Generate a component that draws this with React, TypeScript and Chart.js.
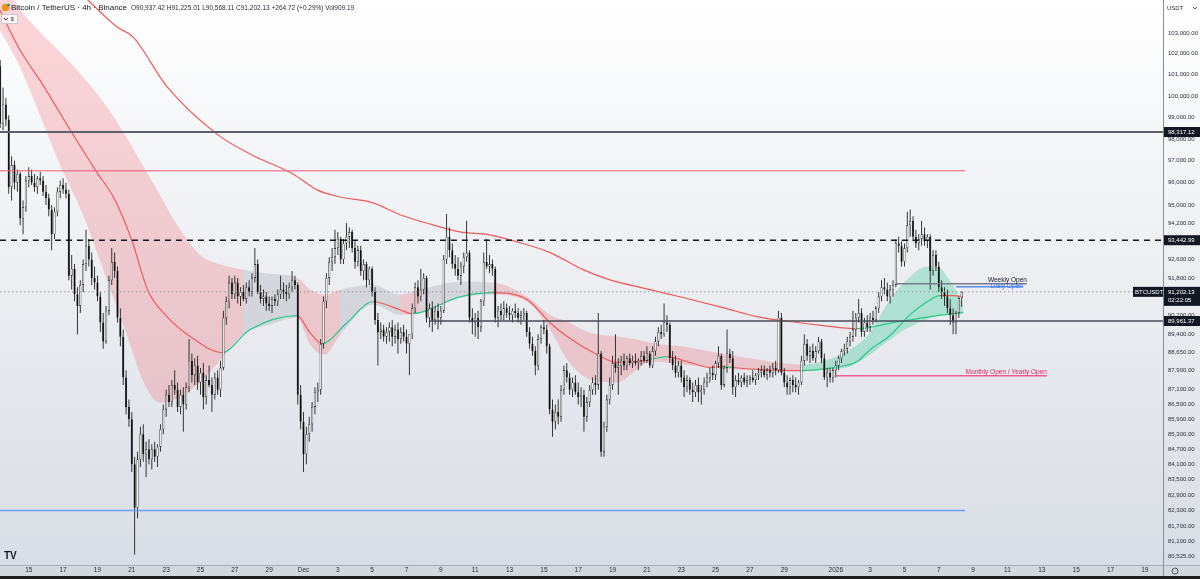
import React, { useEffect, useRef } from "react";
import { Chart, registerables } from "chart.js";

Chart.register(...registerables);

const FONT = "'Liberation Sans', Arial, sans-serif";

// Time axis: days since 1 Dec 2025 00:00. First candle = 13 Nov 08:00, 4h candles.
const firstCandleDay = -17.6667;
const candleStepDays = 4 / 24;

// [open, high, low, close]
const ohlc: number[][] = [
  [101400,101700,98500,98700],[98700,100400,98400,99600],[99600,99900,98600,98900],[98900,99100,95500,95800],
  [95800,97200,95200,96800],[96800,97000,95700,96000],[96000,96600,95600,96400],[96400,96500,94100,94400],[94400,95200,93700,94900],[94900,96300,94700,96100],
  [96100,96700,95800,96300],[96300,96600,95900,96000],[96000,96400,95600,95800],[95800,96300,95500,96200],[96200,96500,95900,96100],[96100,96300,95400,95600],
  [95600,95900,95000,95300],[95300,95500,94500,94800],[94800,95000,93000,93700],[93700,94900,93500,94700],[94700,95800,94500,95600],[95600,96100,95300,95900],
  [95900,96200,95500,95700],[95700,96000,95300,95500],[95500,95700,91700,91900],[91900,92800,91300,92200],[92200,92400,90800,91100],[91100,91400,89400,90600],
  [90600,91700,90300,91500],[91500,92600,91200,92400],[92400,93900,92100,93200],[93200,93500,92300,92600],[92600,92900,91500,91800],[91800,92300,91300,91600],
  [91600,91900,90800,91000],[91000,91200,89500,89900],[89900,90300,88800,89100],[89100,90600,89000,90400],[90400,91900,90200,91700],[91700,93100,91500,92500],
  [92500,92900,91800,92100],[92100,92300,89900,90100],[90100,90500,88900,89300],[89300,89600,87300,87600],[87600,87900,86100,86400],[86400,86700,85600,85900],
  [85900,86200,83800,84100],[84100,84400,80600,82400],[82400,84600,82000,84300],[84300,85600,84000,85300],[85300,85700,84200,84500],[84500,85000,83600,84700],
  [84700,85100,84100,84300],[84300,84900,83900,84700],[84700,85000,84200,84400],[84400,84900,84000,84800],[84800,85700,84600,85500],[85500,86500,85300,86300],
  [86300,87100,86000,86900],[86900,87300,86400,86600],[86600,87500,86400,87300],[87300,87900,86900,87100],[87100,87400,86200,86400],[86400,87100,86100,86900],
  [86900,87200,85400,86500],[86500,87400,86300,87200],[87200,89200,87000,88300],[88300,88600,87400,87700],[87700,88400,87300,88100],[88100,88500,87100,87400],
  [87400,88000,86900,87800],[87800,88200,86300,86800],[86800,87700,86500,87500],[87500,88100,87200,87300],[87300,87600,86200,86900],[86900,87800,86700,87600],
  [87600,87900,86900,87100],[87100,88300,86800,88000],[88000,90400,87900,90100],[90100,91000,89800,90800],[90800,91900,90500,91600],[91600,91800,90900,91100],
  [91100,91900,90900,91600],[91600,91800,90700,91000],[91000,91400,90600,91200],[91200,91500,90800,90900],[90900,91600,90700,91400],[91400,91700,91000,91200],
  [91200,92000,91000,91800],[91800,93100,91600,92400],[92400,92600,91100,91200],[91200,91500,90700,90900],[90900,91300,90600,91000],[91000,91200,90400,90700],
  [90700,91000,90400,90600],[90600,91000,90300,90900],[90900,91100,90600,90800],[90800,91300,90600,91100],[91100,91900,90900,91300],[91300,91600,90900,91200],
  [91200,91500,90800,91100],[91100,91600,90900,91400],[91400,92100,91200,91700],[91700,91900,91300,91500],[91500,91600,86500,86900],[86900,87300,85500,85800],
  [85800,86200,83800,84500],[84500,85600,84100,85300],[85300,86000,85000,85700],[85700,86600,85400,86400],[86400,87200,86100,87000],[87000,87400,86600,87100],
  [87100,89200,86900,89000],[89000,91000,88800,90800],[90800,92000,90500,91800],[91800,92700,91500,92500],[92500,93100,92100,92700],[92700,93900,92400,93100],
  [93100,93800,92800,93500],[93500,93600,92400,92600],[92600,93500,92400,93300],[93300,94200,93000,93600],[93600,94000,93100,93800],[93800,93900,92900,93100],
  [93100,93400,92200,92500],[92500,93200,92300,93000],[93000,93200,91900,92100],[92100,92600,91700,92400],[92400,92500,91400,91700],[91700,92300,91500,92200],
  [92200,92300,91000,91200],[91200,91400,89800,90000],[90000,90300,88100,89500],[89500,89900,89200,89600],[89600,89800,89100,89300],[89300,89700,89000,89500],
  [89500,89900,89100,89700],[89700,90000,88900,89300],[89300,89800,89000,89600],[89600,89900,88600,89200],[89200,89700,89000,89500],[89500,89800,89100,89300],
  [89300,89600,88600,89000],[89000,89200,87700,89400],[89400,90700,89200,90500],[90500,91600,90300,91400],[91400,91700,90700,91000],[91000,92200,90800,91300],
  [91300,92000,91100,91800],[91800,91900,89900,90100],[90100,90700,89700,90500],[90500,90800,89500,90000],[90000,90600,89800,90400],[90400,90700,89600,90100],
  [90100,90600,89800,90400],[90400,92800,90300,92600],[92600,94600,92400,93600],[93600,94000,92700,93000],[93000,93300,92200,92400],[92400,92800,91900,92200],
  [92200,92700,91700,91900],[91900,92500,91500,92300],[92300,92900,92000,92700],[92700,94300,92500,92900],[92900,93000,89900,90100],[90100,90500,89400,89900],
  [89900,90300,89300,90100],[90100,90400,89200,89700],[89700,90900,89500,90800],[90800,92900,90600,92500],[92500,93500,92200,92300],[92300,92800,92000,92400],
  [92400,92600,91900,92200],[92200,92300,89900,90100],[90100,90600,89700,90400],[90400,90700,90000,90200],[90200,90800,90000,90500],[90500,90700,90100,90300],
  [90300,90600,90000,90200],[90200,90500,89900,90400],[90400,90700,90100,90300],[90300,90500,89900,90100],[90100,90400,89800,90200],[90200,90500,90000,90300],
  [90300,90400,89300,89500],[89500,89700,88800,89000],[89000,89300,88500,88700],[88700,88900,87700,88100],[88100,89400,87900,89200],[89200,89800,89000,89700],
  [89700,90000,89400,89600],[89600,89800,88600,88900],[88900,89000,86100,86300],[86300,86700,85200,85800],[85800,86500,85500,86200],[86200,86700,85700,86000],
  [86000,87300,85800,87100],[87100,88100,86900,87900],[87900,88200,87400,87600],[87600,87800,86900,87100],[87100,87600,86800,87400],[87400,87700,86900,87000],
  [87000,87400,86500,86800],[86800,87200,86400,86900],[86900,87100,85400,86000],[86000,86800,85800,86600],[86600,87300,86400,87100],[87100,87600,86900,87400],
  [87400,87700,86900,87300],[87300,90300,87100,88600],[88600,88700,84400,84600],[84600,85800,84400,85600],[85600,86900,85400,86700],[86700,87600,86500,87300],
  [87300,88500,87100,88200],[88200,89400,87800,88000],[88000,88400,86900,88100],[88100,88500,87700,88300],[88300,88600,87900,88100],[88100,88500,87900,88400],
  [88400,88600,88100,88200],[88200,88500,88000,88300],[88300,88600,88100,88200],[88200,88400,87900,88300],[88300,88700,88100,88500],[88500,88700,88200,88300],
  [88300,88900,88200,88600],[88600,88700,88000,88100],[88100,88900,88000,88700],[88700,89300,88500,89100],[89100,89700,88900,89500],[89500,89800,89200,89400],
  [89400,90700,89300,89900],[89900,90200,89500,89800],[89800,89900,88200,88400],[88400,88700,87900,88100],[88100,88500,87600,87800],[87800,88300,87600,88100],
  [88100,88300,87400,87600],[87600,87900,86800,87200],[87200,87700,87000,87500],[87500,87600,86900,87100],[87100,87400,86600,87000],[87000,87500,86800,87300],
  [87300,87600,86600,87000],[87000,87300,86500,87100],[87100,87600,86900,87400],[87400,87800,87200,87600],[87600,88000,87400,87800],[87800,88100,87500,87700],
  [87700,88300,87500,88200],[88200,88900,88000,88500],[88500,88600,87100,87300],[87300,88100,87200,88000],[88000,89600,87800,88600],[88600,88800,88200,88400],
  [88400,88700,86900,87200],[87200,87700,86800,87500],[87500,87800,87300,87400],[87400,87700,87200,87600],[87600,87800,87300,87400],[87400,87700,87200,87500],
  [87500,87700,87300,87600],[87600,87900,87400,87500],[87500,87800,87300,87700],[87700,88000,87500,87800],[87800,88100,87600,87900],[87900,88100,87600,87700],
  [87700,88000,87500,87900],[87900,88100,87600,87800],[87800,88200,87600,88000],[88000,88300,87700,87900],[87900,90400,87800,90100],[90100,90300,87700,87800],
  [87800,88000,87200,87400],[87400,87700,86900,87200],[87200,87600,86900,87500],[87500,87700,87000,87300],[87300,87600,87000,87200],[87200,87500,86900,87400],
  [87400,88500,87300,88300],[88300,89400,88100,89000],[89000,89200,88300,88500],[88500,88900,88200,88700],[88700,89000,88300,88400],[88400,88900,88200,88700],
  [88700,89300,88600,89100],[89100,89200,88200,88400],[88400,88600,87500,87600],[87600,88000,87200,87800],[87800,88000,87400,87600],[87600,88000,87400,87900],
  [87900,88300,87600,88100],[88100,88500,87900,88400],[88400,88800,88200,88700],[88700,89000,88500,88800],[88800,89300,88600,89100],[89100,89500,88900,89300],
  [89300,90400,89100,89600],[89600,90300,89300,90100],[90100,90900,89900,90300],[90300,90500,89300,89500],[89500,90100,89300,89900],[89900,90200,89500,89700],
  [89700,90300,89500,90100],[90100,90400,89800,90000],[90000,90600,89900,90500],[90500,91200,90300,91000],[91000,91700,90800,91400],[91400,91800,91100,91300],
  [91300,91600,90800,91000],[91000,91500,90700,91300],[91300,91700,91000,91500],[91500,93500,91400,93300],[93300,93600,92900,93200],[93200,93400,92300,92500],
  [92500,93300,92300,93100],[93100,94700,92900,94100],[94100,94800,93600,94300],[94300,94500,93400,93600],[93600,93900,93100,93300],[93300,93700,93000,93500],
  [93500,94300,93200,93700],[93700,94000,93200,93400],[93400,93700,93100,93600],[93600,93700,91300,92100],[92100,93000,91900,92800],[92800,93000,92100,92300],
  [92300,92500,91200,91400],[91400,91700,90900,91200],[91200,91400,90600,91000],[91000,91300,90300,90500],[90500,90900,89800,90200],[90200,90500,89400,89900],
  [89900,90400,89400,90300],[90300,91000,90100,90937.42],[90937.42,91225.01,90568.11,91202.13],
];

// Fast moving average (ribbon centre line)
const maFastDays = [-17.7,-16.51,-15.17,-13.48,-12.03,-10.98,-9.99,-9.06,-7.95,-6.6,-4.75,-3.11,-0.38,0.38,1.08,2.53,4.05,5.62,6.32,9.11,11.04,13.02,14.36,15.35,17.09,18.26,19.42,20.18,21.17,22.51,23.67,24.43,25.01,26.59,28.92,30.84,32.24,33.0,34.16,35.33,36.32,37.07,37.83,38.41];
const maFastPrices = [104140,102180,100510,98270,96470,95230,93420,91250,90150,89310,88640,89600,90190,89470,89010,89890,90780,90440,90270,90990,91165,90870,89890,89310,88555,88225,88265,88345,88470,88225,88015,88055,88015,87930,87890,88015,88265,88760,89350,90230,90780,91040,91040,91000];
const maFastZoneStart = [-99,-4.75,-0.38,1.08,4.05,6.32,11.04,20.18,21.17,24.43,25.01,28.92,37.07];
const maFastZoneTrend = ["down","up","down","up","down","up","down","up","down","up","down","up","down"];

// Slow moving average
const maSlowDays = [-13.02,-10.86,-9.93,-7.95,-5.04,-3.12,-0.61,0.79,2.13,4.05,5.62,7.54,9.11,10.86,12.43,14.36,16.28,17.85,20.18,22.1,24.43,26.41,28.33,30.26,32.24,34.34,36.49,38.41];
const maSlowPrices = [104990,103290,102810,100440,98220,97310,96400,95680,95360,95100,94570,94120,93810,93680,93370,92900,92160,91720,91300,90960,90530,90150,89940,89770,89640,89890,90150,90320];
const maSlowZoneStart = [-99,32.24];
const maSlowZoneTrend = ["down","up"];

// Ribbon band
const bandDays = [-17.68,-16.51,-15.35,-14.18,-12.84,-11.45,-10.4,-9.24,-8.36,-7.48,-6.03,-4.57,-3.52,-1.95,-0.38,0.38,1.25,2.13,4.05,5.62,6.79,9.11,11.04,13.02,14.36,15.35,16.69,18.26,19.42,20.18,22.1,23.67,26.41,28.92,30.26,31.83,33.0,34.16,35.33,36.32,36.9,37.49,38.07,38.41];
const bandUpper = [105600,104140,103050,102080,100900,99480,98180,96630,95455,94255,92810,92330,92155,91985,91810,91295,91080,91295,91510,91080,91295,91640,91600,90995,90230,89935,89470,89305,89180,89050,88885,88680,88345,88140,88265,88760,89470,90870,91850,92290,92290,91850,91165,90570];
const bandLower = [103145,101370,99110,96810,94565,91725,89600,87315,86580,86700,87400,88555,89390,89810,90100,88970,88555,89390,90655,90230,90315,90955,91080,90785,89600,88345,87520,87400,87930,88265,88140,88015,87890,87850,87930,88060,88555,89180,89720,90020,90190,90230,90275,90320];
const bandZoneStart = [-99,-3.52,-0.38,2.13,5.62,6.79,11.04,28.92];
const bandZoneTrend = ["down","flat","down","flat","down","flat","down","up"];

// Horizontal levels: price, from day, to day
const levelSupportHigh = { price: 98317.12, from: -17.68, to: 50.06 };
const levelPink = { price: 96540, from: -17.68, to: 38.53 };
const levelDashed = { price: 93442.99, from: -17.68, to: 50.06 };
const levelLast = { price: 91202.13, from: -17.68, to: 50.06 };
const levelMid = { price: 89961.37, from: 7.37, to: 50.06 };
const levelBlue = { price: 82300, from: -17.68, to: 38.53 };
const weeklyOpen = { price: 91553, from: 34.5, to: 42.13 };
const dailyOpen = { price: 91424, from: 38.0, to: 41.9 };
const monthlyOpen = { price: 87680, from: 31.0, to: 43.3 };

const xTickDays = [-16,-14,-12,-10,-8,-6,-4,-2,0,2,4,6,8,10,12,14,16,18,20,22,24,26,28,31,33,35,37,39,41,43,45,47,49];
const xTickLabels = ["15","17","19","21","23","25","27","29","Dec","3","5","7","9","11","13","15","17","19","21","23","25","27","29","2026","3","5","7","9","11","13","15","17","19"];
const yTickValues = [103000,102000,101000,100000,99000,98000,97000,96000,95000,94200,93400,92600,91800,91000,90200,89400,88650,87900,87100,86500,85900,85300,84700,84100,83500,82900,82300,81700,81100,80525];

const X_MIN = -17.676, X_MAX = 50.058, Y_MIN = 80215, Y_MAX = 104610;

const trendAt = (starts: number[], trends: string[], d: number) => {
  let t = trends[0];
  for (let i = 0; i < starts.length; i++) if (d >= starts[i] - 1e-6) t = trends[i];
  return t;
};
const LINE_COL: Record<string, string> = { down: "#f05a5a", up: "#27c98b", flat: "#27c98b" };
const FILL_COL: Record<string, string> = {
  down: "rgba(242, 70, 80, 0.22)",
  flat: "rgba(120, 123, 134, 0.2)",
  up: "rgba(38, 200, 140, 0.3)",
};

const fmt = (v: number) =>
  v.toLocaleString("en-US", { minimumFractionDigits: 2, maximumFractionDigits: 2 });

const levelDs = (lv: { price: number; from: number; to: number }, color: string, width: number, dash: number[] = []) => ({
  type: "line",
  data: [{ x: lv.from, y: lv.price }, { x: lv.to, y: lv.price }],
  borderColor: color,
  borderWidth: width,
  borderDash: dash,
  pointRadius: 0,
  fill: false,
  order: -1,
});

export default function App() {
  const ref = useRef<HTMLCanvasElement>(null);
  useEffect(() => {
    if (!ref.current) return;
    const t = (i: number) => firstCandleDay + i * candleStepDays;
    const bodies = ohlc.map((c, i) => ({ x: t(i), y: [Math.min(c[0], c[3]), Math.max(c[0], c[3])] }));
    const wicks = ohlc.map((c, i) => ({ x: t(i), y: [c[2], c[1]] }));
    const bodyColors = ohlc.map((c) => (c[3] >= c[0] ? "#ffffff" : "#000000"));

    const plugin = {
      id: "tvOverlay",
      beforeDraw(chart: any) {
        const { ctx, width, height } = chart;
        ctx.save();
        const g = ctx.createLinearGradient(0, 0, 0, height);
        g.addColorStop(0, "#ffffff");
        g.addColorStop(1, "#d8dce4");
        ctx.fillStyle = g;
        ctx.fillRect(0, 0, width, height);
        ctx.restore();
      },
      afterDraw(chart: any) {
        const { ctx, chartArea: ca, scales } = chart;
        const xs = scales.x, ys = scales.y;
        ctx.save();
        // bottom strip
        ctx.fillStyle = "#d3d7de";
        ctx.fillRect(0, ca.bottom, chart.width, chart.height - ca.bottom);
        ctx.fillStyle = "#1c1c1c";
        ctx.fillRect(0, chart.height - 3, chart.width, 3);
        ctx.font = `6.5px ${FONT}`;
        ctx.fillStyle = "#2a2e39";
        ctx.textAlign = "center";
        ctx.textBaseline = "middle";
        xTickDays.forEach((d, i) => ctx.fillText(xTickLabels[i], xs.getPixelForValue(d), ca.bottom + 5.5));
        // separators
        ctx.strokeStyle = "#a9adb6";
        ctx.lineWidth = 1;
        ctx.beginPath();
        ctx.moveTo(0, ca.bottom + 0.5);
        ctx.lineTo(chart.width, ca.bottom + 0.5);
        ctx.stroke();
        ctx.strokeStyle = "#8a8e97";
        ctx.beginPath();
        ctx.moveTo(ca.right + 0.5, 0);
        ctx.lineTo(ca.right + 0.5, chart.height - 3);
        ctx.stroke();
        // bottom-right icon
        ctx.strokeStyle = "#555";
        ctx.beginPath();
        ctx.arc(1175, ca.bottom + 6, 3, 0, Math.PI * 2);
        ctx.stroke();

        // header
        ctx.textAlign = "left";
        ctx.fillStyle = "#f7931a";
        ctx.beginPath();
        ctx.arc(5.5, 7.5, 3.8, 0, Math.PI * 2);
        ctx.fill();
        ctx.fillStyle = "#26a17b";
        ctx.beginPath();
        ctx.arc(8.5, 5, 1.6, 0, Math.PI * 2);
        ctx.fill();
        ctx.fillStyle = "#131722";
        ctx.font = `8px ${FONT}`;
        ctx.fillText("Bitcoin / TetherUS \u00b7 4h \u00b7 Binance", 11, 8);
        ctx.font = `6.5px ${FONT}`;
        ctx.fillStyle = "#2a2e39";
        ctx.fillText("O90,937.42 H91,225.01 L90,568.11 C91,202.13 +264.72 (+0.29%) Vol909.19", 131, 8);
        ctx.strokeStyle = "#c5c8ce";
        ctx.fillStyle = "rgba(255,255,255,0.8)";
        ctx.beginPath();
        ctx.rect(1.5, 14.5, 16, 9);
        ctx.fill();
        ctx.stroke();
        ctx.strokeStyle = "#333";
        ctx.beginPath();
        ctx.moveTo(4, 18);
        ctx.lineTo(6, 20);
        ctx.lineTo(8, 18);
        ctx.stroke();
        ctx.fillStyle = "#333";
        ctx.font = `6px ${FONT}`;
        ctx.fillText("$", 10.5, 19.5);
        // USDT
        ctx.font = `6px ${FONT}`;
        ctx.fillStyle = "#2a2e39";
        ctx.fillText("USDT", 1167, 8);
        ctx.beginPath();
        ctx.moveTo(1193, 7);
        ctx.lineTo(1195, 9);
        ctx.lineTo(1197, 7);
        ctx.strokeStyle = "#555";
        ctx.stroke();

        // level labels
        ctx.font = `6.5px ${FONT}`;
        ctx.textAlign = "right";
        ctx.textBaseline = "alphabetic";
        ctx.fillStyle = "#131722";
        ctx.fillText("Weekly Open", xs.getPixelForValue(weeklyOpen.to), ys.getPixelForValue(weeklyOpen.price) - 1.5);
        ctx.fillStyle = "#3d7bf0";
        ctx.fillText("Daily Open", xs.getPixelForValue(dailyOpen.to), ys.getPixelForValue(dailyOpen.price) + 1);
        ctx.fillStyle = "#e91e63";
        ctx.fillText("Monthly Open / Yearly Open", xs.getPixelForValue(monthlyOpen.to), ys.getPixelForValue(monthlyOpen.price) - 1.5);

        // axis price boxes
        ctx.textAlign = "left";
        ctx.textBaseline = "middle";
        ctx.font = `6px ${FONT}`;
        const box = (v: number, txt: string, sub?: string) => {
          const yy = ys.getPixelForValue(v);
          const h = sub ? 19 : 10;
          ctx.fillStyle = "#131722";
          ctx.fillRect(ca.right + 1, yy - 5, 36, h);
          ctx.fillStyle = "#ffffff";
          ctx.fillText(txt, ca.right + 5, yy);
          if (sub) ctx.fillText(sub, ca.right + 5, yy + 8.5);
        };
        box(levelSupportHigh.price, fmt(levelSupportHigh.price));
        box(levelDashed.price, fmt(levelDashed.price));
        box(levelMid.price, fmt(levelMid.price));
        box(levelLast.price, fmt(levelLast.price), "02:22:05");
        const ly = ys.getPixelForValue(levelLast.price);
        ctx.fillStyle = "#131722";
        ctx.fillRect(ca.right - 30, ly - 5, 30, 10);
        ctx.fillStyle = "#ffffff";
        ctx.fillText("BTCUSDT", ca.right - 28, ly);

        // TV logo
        ctx.fillStyle = "#131722";
        ctx.font = `bold 10px ${FONT}`;
        ctx.textBaseline = "alphabetic";
        ctx.fillText("TV", 4, 559);
        ctx.restore();
      },
    };

    const chart = new Chart(ref.current, {
      type: "bar",
      data: {
        datasets: [
          {
            type: "bar",
            data: bodies,
            backgroundColor: bodyColors,
            borderColor: "#111111",
            borderWidth: 0.6,
            borderSkipped: false,
            barThickness: 2.2,
            inflateAmount: 0,
            grouped: false,
            order: 0,
          },
          {
            type: "bar",
            data: wicks,
            backgroundColor: "#222222",
            borderWidth: 0,
            barThickness: 0.9,
            inflateAmount: 0,
            grouped: false,
            order: 1,
          },
          {
            type: "line",
            data: maFastDays.map((d, i) => ({ x: d, y: maFastPrices[i] })),
            borderWidth: 1.2,
            pointRadius: 0,
            cubicInterpolationMode: "monotone",
            fill: false,
            segment: {
              borderColor: (c: any) => LINE_COL[trendAt(maFastZoneStart, maFastZoneTrend, c.p0.parsed.x)],
            },
            order: 3,
          },
          {
            type: "line",
            data: maSlowDays.map((d, i) => ({ x: d, y: maSlowPrices[i] })),
            borderWidth: 1.2,
            pointRadius: 0,
            cubicInterpolationMode: "monotone",
            fill: false,
            segment: {
              borderColor: (c: any) => LINE_COL[trendAt(maSlowZoneStart, maSlowZoneTrend, c.p0.parsed.x)],
            },
            order: 4,
          },
          {
            type: "line",
            data: bandDays.map((d, i) => ({ x: d, y: bandUpper[i] })),
            borderWidth: 0,
            pointRadius: 0,
            cubicInterpolationMode: "monotone",
            fill: "+1",
            backgroundColor: FILL_COL.down,
            segment: {
              backgroundColor: (c: any) => FILL_COL[trendAt(bandZoneStart, bandZoneTrend, c.p0.parsed.x)],
            },
            order: 10,
          },
          {
            type: "line",
            data: bandDays.map((d, i) => ({ x: d, y: bandLower[i] })),
            borderWidth: 0,
            pointRadius: 0,
            cubicInterpolationMode: "monotone",
            fill: false,
            order: 11,
          },
          levelDs(levelSupportHigh, "#5d606b", 2),
          levelDs(levelPink, "#ef5b7a", 1),
          levelDs(levelDashed, "#131722", 1.5, [6, 5]),
          levelDs(levelLast, "#9598a1", 1, [1.5, 2.5]),
          levelDs(levelMid, "#4a4d57", 1.5),
          levelDs(levelBlue, "#6f9ef0", 1.5),
          levelDs(weeklyOpen, "#787b86", 1.5),
          levelDs(dailyOpen, "#5b8def", 1.5),
          levelDs(monthlyOpen, "#ec5f8f", 1.5),
        ] as any,
      },
      options: {
        animation: false,
        responsive: true,
        maintainAspectRatio: false,
        events: [],
        layout: { padding: 0 },
        plugins: { legend: { display: false }, tooltip: { enabled: false } },
        scales: {
          x: {
            type: "linear",
            min: X_MIN,
            max: X_MAX,
            offset: false,
            grid: { display: false, drawTicks: false },
            border: { display: false },
            ticks: { display: false },
            afterFit: (s: any) => {
              s.height = 14;
              s.paddingLeft = 0;
              s.paddingRight = 0;
            },
          },
          y: {
            type: "logarithmic",
            position: "right",
            min: Y_MIN,
            max: Y_MAX,
            grid: { display: false, drawTicks: false },
            border: { display: false },
            ticks: {
              autoSkip: false,
              padding: 5,
              color: "#2a2e39",
              font: { size: 6, family: FONT },
              callback: (v: any) => fmt(Number(v)),
            },
            afterBuildTicks: (s: any) => {
              s.ticks = yTickValues.map((v) => ({ value: v }));
            },
            afterFit: (s: any) => {
              s.width = 37;
              s.paddingTop = 0;
              s.paddingBottom = 0;
            },
          },
        },
      } as any,
      plugins: [plugin],
    });
    return () => chart.destroy();
  }, []);

  return (
    <div style={{ position: "fixed", left: 0, top: 0, width: 1200, height: 579 }}>
      <canvas ref={ref} />
    </div>
  );
}
